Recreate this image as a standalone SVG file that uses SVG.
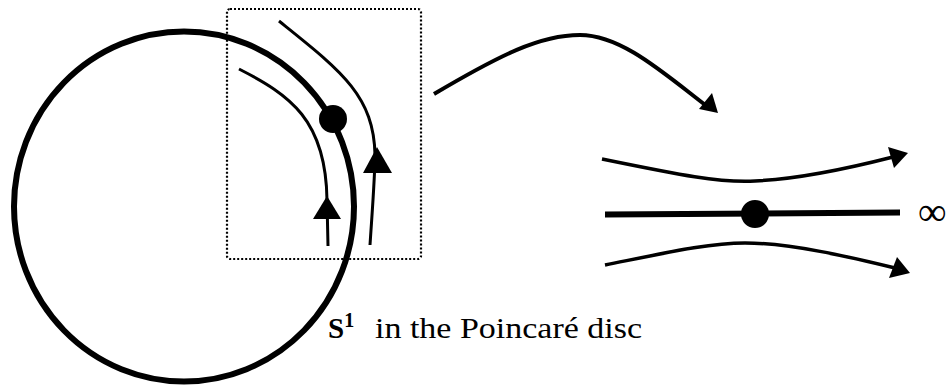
<svg xmlns="http://www.w3.org/2000/svg" width="949" height="387" viewBox="0 0 949 387">
<style>
.curve{fill:none;stroke:#000;stroke-linecap:butt}
.head{fill:#000;stroke:none}
</style>
<rect width="949" height="387" fill="#fff"/>
<g id="disc">
<ellipse cx="184" cy="206.5" rx="170" ry="175" fill="none" stroke="#000" stroke-width="6"/>
<circle cx="333" cy="119" r="14" fill="#000"/>
</g>
<g id="zoom-box">
<rect x="227" y="9" width="194" height="250" rx="3" fill="none" stroke="#000" stroke-width="2.2" stroke-dasharray="2 2"/>
</g>
<g id="flows-left">
<path class="curve" stroke-width="3" d="M328,246 L327,200 C326,120 290,95 239,69"/>
<polygon class="head" points="327,196 341,219 313,219"/>
<path class="curve" stroke-width="3" d="M370,245 C373,200 375,175 375,155 C374,95 340,70 279,21"/>
<polygon class="head" points="377,147 392,173 363,173"/>
</g>
<g id="connectors">
<path class="curve" stroke-width="4" d="M434,94 C500,55 540,35 580,35 C620,35 660,70 704,104"/>
<polygon class="head" points="718,113 699,109 712,93"/>
</g>
<g id="flows-right">
<path class="curve" stroke-width="3.5" d="M602,159 C680,175 720,183 755,181 C800,179 850,168 893,157"/>
<polygon class="head" points="908,153 888,147 894,168"/>
<line x1="605" y1="214.5" x2="900" y2="212.5" stroke="#000" stroke-width="6"/>
<circle cx="755" cy="214" r="14" fill="#000"/>
<path class="curve" stroke-width="3.5" d="M605,265 C670,252 710,243 745,243 C790,243 850,257 895,268"/>
<polygon class="head" points="910,273 889,278 897,257"/>
</g>
<g id="labels">
<text x="918" y="225" font-family="'Liberation Serif', 'Times New Roman', serif" font-size="40" fill="#000">∞</text>
<text x="328" y="338" font-family="'Liberation Serif', 'Times New Roman', serif" font-size="29" fill="#000"><tspan font-weight="bold">S</tspan><tspan font-weight="bold" font-size="20" dy="-11">1</tspan><tspan x="375" dy="11" textLength="267" lengthAdjust="spacingAndGlyphs">in the Poincaré disc</tspan></text>
</g>
</svg>
